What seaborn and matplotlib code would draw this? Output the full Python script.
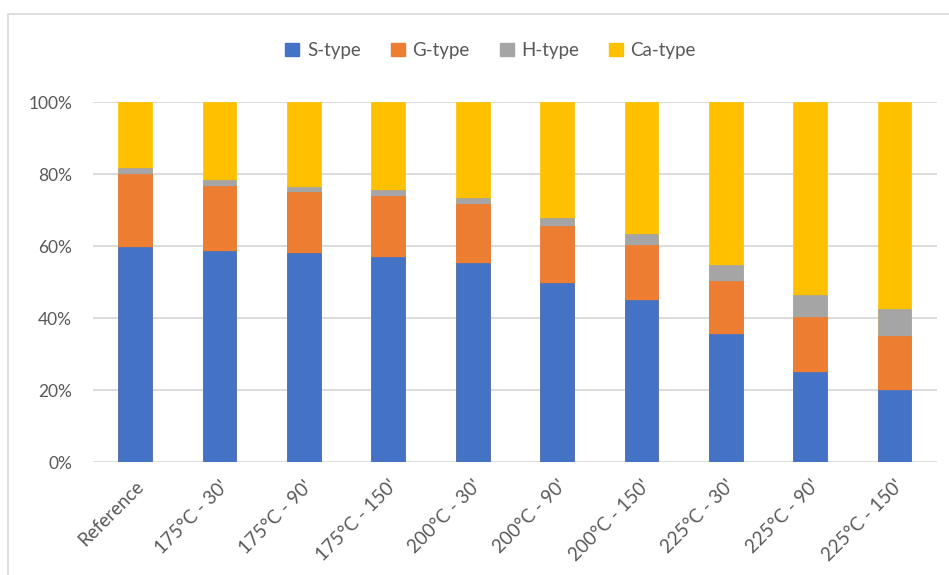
import matplotlib
matplotlib.use('Agg')
import matplotlib.pyplot as plt
from matplotlib.patches import Patch, Rectangle
import numpy as np
import pandas as pd
import seaborn as sns

# Data (percent of total)
categories = ["Reference", "175°C - 30'", "175°C - 90'", "175°C - 150'",
              "200°C - 30'", "200°C - 90'", "200°C - 150'",
              "225°C - 30'", "225°C - 90'", "225°C - 150'"]
s_type = [59.6, 58.5, 58.0, 56.9, 55.3, 49.8, 45.0, 35.5, 25.0, 20.0]
g_type = [20.5, 18.3, 17.1, 17.1, 16.5, 15.8, 15.2, 14.9, 15.4, 14.9]
h_type = [1.7, 1.6, 1.2, 1.6, 1.6, 2.3, 3.2, 4.3, 6.1, 7.7]
ca_type = [18.2, 21.6, 23.7, 24.4, 26.6, 32.1, 36.6, 45.3, 53.5, 57.4]

series = ["S-type", "G-type", "H-type", "Ca-type"]
colors = ["#4472C4", "#ED7D31", "#A5A5A5", "#FFC000"]

sns.set_style("white")
plt.rcParams['font.family'] = ['Lato', 'DejaVu Sans']

df = pd.DataFrame({"cat": categories, "S-type": s_type, "G-type": g_type,
                   "H-type": h_type, "Ca-type": ca_type})
totals = df[series].sum(axis=1)
pct = df[series].div(totals, axis=0)
cum = pct.cumsum(axis=1)
cum["cat"] = df["cat"]

fig = plt.figure(figsize=(9.49, 5.75), dpi=100)
ax = fig.add_axes([0.098, 0.1965, 0.889, 0.6261])

# draw from top layer down so lower layers overlap
for name, col in reversed(list(zip(series, colors))):
    sns.barplot(data=cum, x="cat", y=name, order=categories, color=col,
                width=0.4, saturation=1, ax=ax, zorder=3,
                edgecolor=col, linewidth=0.5)

ax.set_ylim(0, 1)
ax.set_xlim(-0.5, len(categories) - 0.5)
ax.set_yticks(np.linspace(0, 1, 6))
ax.set_yticklabels([f"{int(v)}%" for v in np.linspace(0, 100, 6)])
ax.set_xlabel("")
ax.set_ylabel("")
ax.yaxis.grid(True, color="#D9D9D9", linewidth=1.3, zorder=0)
ax.set_axisbelow(True)
for sp in ["top", "right", "left", "bottom"]:
    ax.spines[sp].set_visible(False)
ax.tick_params(axis="both", length=0, colors="#595959")
ax.tick_params(axis="y", pad=15, labelsize=12.5)
ax.tick_params(axis="x", pad=11, labelsize=13.5)
plt.setp(ax.get_xticklabels(), rotation=45, ha="right", rotation_mode="anchor")

handles = [Patch(facecolor=c, edgecolor=c) for c in colors]
fig.legend(handles, series, loc="center", bbox_to_anchor=(0.517, 0.912),
           ncol=4, frameon=False, fontsize=13.5, labelcolor="#595959",
           handlelength=0.75, handleheight=0.75, handletextpad=0.4,
           columnspacing=1.6)

# chart area border
fig.patches.append(Rectangle((8 / 949, -0.1), 1.2, 1 - 14 / 575 + 0.1,
                             transform=fig.transFigure, fill=False,
                             edgecolor="#D9D9D9", linewidth=1.2))

fig.savefig("out.png", dpi=100)
